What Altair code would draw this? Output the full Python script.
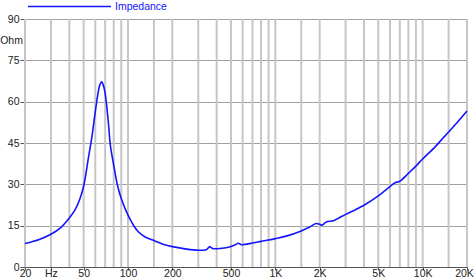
import altair as alt
import pandas as pd

# Impedance curve (frequency in Hz, impedance in Ohm)
freqs = [20, 25, 30, 35, 40, 43.7, 47, 50, 53.8, 56.7, 60, 62.6, 64.3, 66.3, 68, 70,
         73.5, 76, 80, 85, 90, 100, 110, 117.5, 130, 150, 175, 200, 250, 300, 340,
         352, 359, 367, 375, 400, 450, 500, 540, 561, 590, 620, 700, 800, 900, 1000,
         1200, 1500, 1700, 1890, 2000, 2070, 2230, 2480, 2700, 3000, 3500, 4000,
         5000, 6000, 6500, 7000, 8000, 9000, 10000, 12100, 13700, 14200, 15000,
         17500, 20000]
ohms = [8.5, 10.0, 11.9, 14.3, 17.8, 20.7, 24.5, 29.3, 39.4, 46.7, 56.4, 63.0, 66.0,
        67.2, 66.0, 63.0, 52.7, 44.0, 37.0, 29.5, 24.9, 18.8, 14.8, 12.8, 11.0, 9.6,
        8.2, 7.4, 6.5, 6.1, 6.3, 7.0, 7.4, 7.0, 6.7, 6.6, 6.9, 7.4, 8.2, 8.6, 8.1,
        8.2, 8.7, 9.3, 9.8, 10.3, 11.3, 13.1, 14.4, 15.8, 15.5, 15.2, 16.4, 16.8,
        17.8, 19.1, 20.8, 22.4, 25.8, 29.2, 30.6, 31.1, 34.0, 36.6, 39.2, 43.5,
        46.7, 47.6, 49.0, 53.0, 56.6]
series_name = "Impedance"

x_tick_values = [20, 30, 50, 100, 200, 500, 1000, 2000, 5000, 10000, 20000]
x_grid_values = [20, 30, 40, 50, 60, 70, 80, 90, 100, 150, 200, 300, 400, 500, 600,
                 700, 800, 900, 1000, 1500, 2000, 3000, 4000, 5000, 6000, 7000, 8000,
                 9000, 10000, 15000, 20000]
y_tick_values = [0, 15, 30, 45, 60, 75, 90]

curve = pd.DataFrame({"f": freqs, "z": ohms, "s": series_name})
grid = pd.DataFrame({"f": x_grid_values})

FONT = "Liberation Sans"
xscale = alt.Scale(type="log", domain=[20, 20000], nice=False)
yscale = alt.Scale(domain=[0, 90], nice=False)

xaxis = alt.Axis(
    values=x_tick_values, grid=False, tickSize=3, labelPadding=6,
    labelBaseline="alphabetic",
    labelOffset={"condition": {"test": "datum.value >= 20000", "value": -3}, "value": 0},
    labelFont=FONT, labelFontSize=10.5, labelColor="#222", labelFlush=False,
    domainColor="#555", tickColor="#555",
    labelExpr="datum.value == 30 ? 'Hz' : (datum.value >= 1000 ? (datum.value/1000) + 'K' : datum.value)",
)

vgrid = alt.Chart(grid).mark_rule(color="#c6c6c6", strokeWidth=2).encode(
    x=alt.X("f:Q", scale=xscale, title=None, axis=xaxis)
)

line = alt.Chart(curve).mark_line(strokeWidth=1.6, interpolate="catmull-rom").encode(
    x=alt.X("f:Q", scale=xscale, title=None, axis=xaxis),
    y=alt.Y(
        "z:Q", scale=yscale,
        axis=alt.Axis(
            values=y_tick_values, grid=True, gridColor="#a0a0a0", gridWidth=1,
            tickSize=5, labelPadding=1, labelFont=FONT, labelFontSize=10.5,
            labelColor="#222", domainColor="#555", tickColor="#555",
            title="Ohm", titleAngle=0, titleFont=FONT, titleFontSize=10.5,
            titleFontWeight="normal", titleColor="#222", titleX=-14, titleY=21,
            titleAlign="center", titleBaseline="middle",
        ),
    ),
    color=alt.Color(
        "s:N", scale=alt.Scale(domain=[series_name], range=["#1414ff"]),
        legend=alt.Legend(
            title=None, orient="none", legendX=2, legendY=-55,
            symbolType="stroke", symbolSize=6889, symbolStrokeWidth=1.6,
            labelColor="#1414ff", labelFont=FONT, labelFontSize=10.5, labelOffset=3,
            padding=0,
        ),
    ),
)

chart = alt.layer(vgrid, line).properties(
    width=442, height=248,
    autosize=alt.AutoSizeParams(type="none"),
    padding={"left": 25, "top": 19, "right": 8, "bottom": 13},
).configure_view(stroke=None)

chart.save("out.html", embed_options={"renderer": "svg", "actions": False})
